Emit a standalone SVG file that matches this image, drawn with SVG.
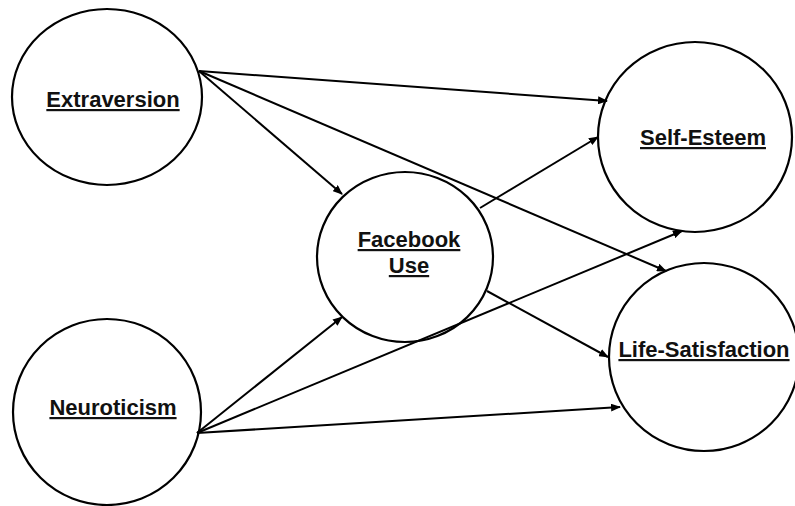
<svg xmlns="http://www.w3.org/2000/svg" width="795" height="506" viewBox="0 0 795 506">
<defs>
<marker id="ah" markerWidth="10" markerHeight="8" refX="9" refY="4" orient="auto" markerUnits="userSpaceOnUse">
<path d="M0,0 L10,4 L0,8 z" fill="#000"/>
</marker>
<style>
.node ellipse{fill:#fff;stroke:#000;stroke-width:2.2}
.node text{font-family:"Liberation Sans",Arial,sans-serif;font-weight:bold;font-size:22px;text-anchor:middle;text-decoration:underline;fill:#111}
#edges line{stroke:#000;stroke-width:2;marker-end:url(#ah)}
</style>
</defs>
<rect width="795" height="506" fill="#fff"/>
<g id="nodes">
<g id="extraversion" class="node"><ellipse cx="107" cy="97" rx="95" ry="88"/><text x="113" y="107">Extraversion</text></g>
<g id="neuroticism" class="node"><ellipse cx="107" cy="412" rx="94" ry="93"/><text x="113" y="415">Neuroticism</text></g>
<g id="facebook" class="node"><ellipse cx="405" cy="257" rx="88" ry="85"/><text x="409" y="247">Facebook</text><text x="409" y="273">Use</text></g>
<g id="selfesteem" class="node"><ellipse cx="695" cy="137" rx="97" ry="95"/><text x="703" y="145">Self-Esteem</text></g>
<g id="lifesat" class="node"><ellipse cx="704" cy="357" rx="95" ry="94"/><text x="704" y="357">Life-Satisfaction</text></g>
</g>
<g id="edges">
<line x1="199" y1="71" x2="607" y2="101"/>
<line x1="199" y1="71" x2="342" y2="194"/>
<line x1="199" y1="71" x2="666" y2="271"/>
<line x1="197" y1="433" x2="342" y2="317"/>
<line x1="197" y1="433" x2="682" y2="231"/>
<line x1="197" y1="433" x2="620" y2="407"/>
<line x1="480" y1="208" x2="598" y2="137"/>
<line x1="487" y1="291" x2="608" y2="357"/>
</g>
</svg>
